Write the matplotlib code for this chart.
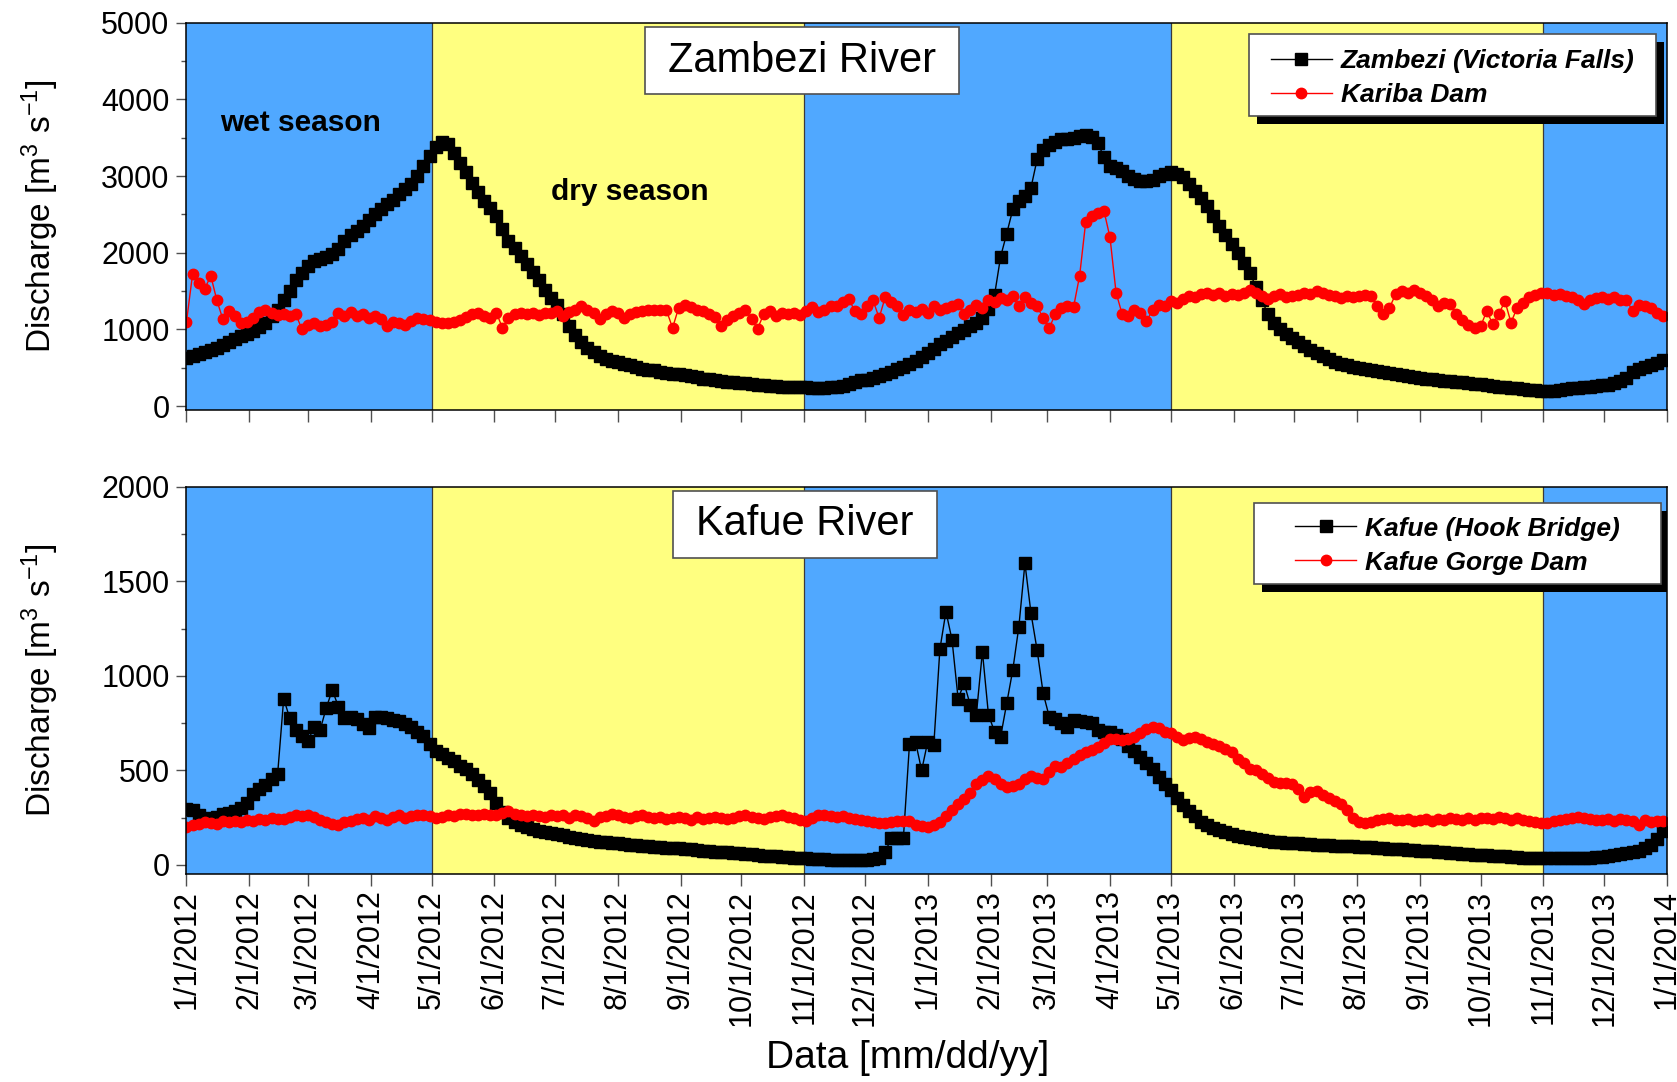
import numpy as np
import pandas as pd
import matplotlib
matplotlib.use("Agg")
import matplotlib.pyplot as plt
import matplotlib.dates as mdates
from matplotlib.patches import Rectangle
from matplotlib.ticker import MultipleLocator, FuncFormatter

plt.rcParams['font.family'] = ['Liberation Sans', 'DejaVu Sans']
plt.rcParams['mathtext.fontset'] = 'custom'
plt.rcParams['mathtext.rm'] = 'Liberation Sans'
plt.rcParams['mathtext.it'] = 'Liberation Sans:italic'
plt.rcParams['mathtext.bf'] = 'Liberation Sans:bold'
plt.rcParams['axes.unicode_minus'] = False

# ---------------------------------------------------------------------------
# Daily discharge records, sampled every third day from 1 Jan 2012 [m3/s]
# ---------------------------------------------------------------------------
start_date = "2012-01-01"
step_days = 3

zambezi_victoria_falls = [
    630, 650, 675, 700, 730, 760, 795, 835, 875, 910, 945,             # 2012-01
    985, 1035, 1090, 1170, 1260, 1390, 1500, 1640, 1740,               # 2012-02
    1826, 1890, 1920, 1950, 1980, 2043, 2150, 2230, 2285, 2350, 2430,  # 2012-03
    2500, 2570, 2630, 2690, 2760, 2826, 2900, 3000, 3130, 3260,        # 2012-04
    3380, 3450, 3420, 3300, 3170, 3050, 2910, 2790, 2680, 2580,        # 2012-05
    2480, 2310, 2160, 2060, 1960, 1860, 1750, 1640, 1520, 1410,        # 2012-06
    1320, 1200, 1040, 930, 830, 760, 700, 655, 620, 595,               # 2012-07
    570, 550, 530, 510, 490, 475, 465, 450, 435, 425, 415,             # 2012-08
    405, 390, 375, 360, 350, 340, 330, 320, 312, 305,                  # 2012-09
    298, 290, 282, 272, 264, 258, 255, 252, 250, 248,                  # 2012-10
    245, 242, 240, 240, 245, 255, 265, 290, 320, 335,                  # 2012-11
    345, 365, 390, 420, 450, 478, 510, 550, 587, 640,                  # 2012-12
    696, 750, 804, 850, 900, 950, 995, 1040, 1090, 1150, 1270,         # 2013-01
    1450, 1950, 2250, 2565, 2670, 2740, 2850, 3217, 3340,              # 2013-02
    3400, 3450, 3478, 3490, 3500, 3520, 3540, 3510, 3430, 3250,        # 2013-03
    3130, 3100, 3060, 3000, 2960, 2940, 2930, 2950, 3000, 3030,        # 2013-04
    3050, 3030, 2990, 2900, 2800, 2710, 2609, 2480, 2350, 2230, 2120,  # 2013-05
    2000, 1870, 1740, 1560, 1380, 1200, 1087, 1000, 940, 885,          # 2013-06
    840, 790, 730, 690, 650, 610, 580, 555, 530, 510,                  # 2013-07
    498, 485, 470, 455, 445, 435, 420, 405, 393, 380,                  # 2013-08
    370, 360, 350, 340, 333, 326, 318, 310, 300, 290,                  # 2013-09
    283, 275, 265, 255, 245, 239, 230, 220, 212, 205, 198,             # 2013-10
    196, 200, 210, 222, 232, 240, 248, 255, 262, 270,                  # 2013-11
    280, 300, 325, 370, 440, 480, 510, 530, 560, 600,                  # 2013-12
]

kariba_dam = [
    1100, 1720, 1600, 1530, 1700, 1380, 1130, 1240, 1180, 1080, 1100,  # 2012-01
    1150, 1230, 1260, 1220, 1190, 1200, 1180, 1200, 1000,              # 2012-02
    1060, 1080, 1050, 1060, 1100, 1210, 1180, 1230, 1170, 1200, 1150,  # 2012-03
    1170, 1140, 1050, 1100, 1080, 1060, 1110, 1150, 1130, 1120,        # 2012-04
    1100, 1090, 1080, 1100, 1120, 1160, 1200, 1210, 1180, 1150,        # 2012-05
    1220, 1020, 1150, 1200, 1220, 1200, 1210, 1190, 1220, 1210,        # 2012-06
    1240, 1180, 1230, 1260, 1300, 1250, 1210, 1140, 1200, 1240,        # 2012-07
    1220, 1150, 1200, 1230, 1240, 1260, 1250, 1260, 1250, 1020, 1280,  # 2012-08
    1320, 1290, 1260, 1240, 1200, 1160, 1050, 1120, 1180, 1220,        # 2012-09
    1260, 1130, 1010, 1200, 1240, 1180, 1210, 1200, 1220, 1190,        # 2012-10
    1240, 1290, 1230, 1260, 1300, 1310, 1360, 1400, 1240, 1200,        # 2012-11
    1300, 1380, 1150, 1420, 1360, 1300, 1190, 1260, 1230, 1270,        # 2012-12
    1220, 1300, 1260, 1280, 1300, 1330, 1200, 1250, 1320, 1280, 1390,  # 2013-01
    1360, 1410, 1380, 1430, 1300, 1420, 1350, 1300, 1150,              # 2013-02
    1020, 1200, 1280, 1300, 1290, 1700, 2400, 2480, 2520, 2550,        # 2013-03
    2200, 1480, 1200, 1180, 1260, 1220, 1110, 1250, 1320, 1300,        # 2013-04
    1370, 1350, 1400, 1435, 1420, 1460, 1480, 1450, 1470, 1440, 1460,  # 2013-05
    1450, 1470, 1520, 1480, 1430, 1400, 1440, 1460, 1420, 1435,        # 2013-06
    1450, 1480, 1460, 1500, 1480, 1450, 1430, 1410, 1440, 1420,        # 2013-07
    1430, 1450, 1440, 1300, 1200, 1280, 1460, 1500, 1480, 1510,        # 2013-08
    1470, 1440, 1380, 1300, 1350, 1330, 1200, 1120, 1060, 1020,        # 2013-09
    1040, 1240, 1070, 1200, 1370, 1090, 1280, 1350, 1420, 1450, 1470,  # 2013-10
    1480, 1450, 1460, 1440, 1420, 1380, 1330, 1390, 1410, 1420,        # 2013-11
    1400, 1420, 1380, 1390, 1240, 1320, 1300, 1280, 1220, 1180,        # 2013-12
]

kafue_hook_bridge = [
    295, 290, 262, 248, 240, 255, 268, 275, 285, 300, 325,             # 2012-01
    375, 400, 425, 452, 480, 880, 775, 714, 680,                       # 2012-02
    655, 731, 714, 830, 925, 837, 775, 784, 770, 745, 725,             # 2012-03
    784, 780, 775, 768, 760, 745, 730, 705, 680, 640,                  # 2012-04
    600, 585, 565, 548, 525, 505, 480, 450, 415, 380,                  # 2012-05
    330, 280, 250, 225, 210, 200, 190, 180, 172, 168,                  # 2012-06
    165, 158, 150, 142, 136, 130, 126, 122, 119, 116,                  # 2012-07
    114, 110, 106, 103, 100, 98, 96, 94, 92, 90, 88,                   # 2012-08
    86, 82, 78, 75, 72, 70, 68, 66, 64, 62,                            # 2012-09
    59, 56, 53, 50, 47, 45, 42, 40, 38, 36,                            # 2012-10
    35, 33, 31, 29, 27, 27, 26, 26, 26, 27,                            # 2012-11
    28, 32, 38, 70, 140, 141, 145, 640, 650, 500,                      # 2012-12
    652, 634, 1140, 1340, 1190, 880, 960, 846, 793, 1128, 793,         # 2013-01
    705, 678, 855, 1031, 1260, 1595, 1330, 1137, 908,                  # 2013-02
    784, 770, 749, 731, 767, 760, 758, 749, 714, 705,                  # 2013-03
    705, 685, 665, 630, 600, 570, 540, 505, 467, 430,                  # 2013-04
    396, 355, 318, 285, 258, 228, 210, 195, 183, 172, 162,             # 2013-05
    155, 148, 142, 135, 130, 126, 122, 120, 118, 116,                  # 2013-06
    114, 112, 110, 108, 106, 104, 102, 100, 99, 98,                    # 2013-07
    97, 95, 93, 91, 89, 87, 85, 83, 81, 79,                            # 2013-08
    76, 74, 72, 70, 68, 65, 62, 60, 58, 55,                            # 2013-09
    53, 51, 49, 47, 45, 43, 41, 39, 37, 36, 35,                        # 2013-10
    35, 35, 35, 35, 35, 35, 37, 39, 41, 44,                            # 2013-11
    48, 52, 58, 64, 70, 76, 88, 108, 135, 180,                         # 2013-12
]

kafue_gorge_dam = [
    200, 210, 215, 225, 220, 215, 230, 225, 235, 228, 238,             # 2012-01
    232, 245, 240, 250, 245, 242, 255, 262, 258,                       # 2012-02
    265, 255, 240, 225, 215, 212, 225, 232, 245, 250, 240,             # 2012-03
    258, 250, 240, 255, 262, 250, 258, 265, 262, 258,                  # 2012-04
    250, 255, 262, 260, 268, 270, 265, 262, 270, 265,                  # 2012-05
    262, 275, 285, 268, 262, 258, 265, 260, 255, 262,                  # 2012-06
    258, 262, 250, 265, 258, 248, 235, 255, 260, 268,                  # 2012-07
    262, 255, 250, 258, 262, 255, 248, 252, 245, 250, 255,             # 2012-08
    248, 240, 252, 245, 250, 255, 248, 242, 250, 258,                  # 2012-09
    262, 255, 250, 245, 252, 258, 262, 255, 250, 240,                  # 2012-10
    230, 250, 262, 265, 260, 255, 258, 250, 245, 238,                  # 2012-11
    230, 225, 222, 220, 225, 230, 232, 235, 210, 205,                  # 2012-12
    200, 210, 225, 260, 290, 320, 350, 380, 430, 450, 470,             # 2013-01
    455, 430, 410, 415, 430, 455, 470, 458, 455,                       # 2013-02
    490, 525, 520, 540, 560, 580, 595, 610, 626, 645,                  # 2013-03
    665, 668, 662, 665, 678, 700, 720, 731, 725, 705,                  # 2013-04
    696, 675, 661, 670, 678, 665, 652, 640, 630, 615, 595,             # 2013-05
    560, 540, 510, 500, 480, 458, 440, 432, 435, 430,                  # 2013-06
    400, 360, 385, 390, 370, 355, 340, 320, 290, 250,                  # 2013-07
    229, 220, 228, 240, 245, 250, 240, 238, 245, 232,                  # 2013-08
    238, 242, 235, 245, 238, 250, 242, 236, 248, 240,                  # 2013-09
    247, 250, 242, 255, 246, 240, 248, 238, 232, 228, 222,             # 2013-10
    220, 230, 238, 245, 250, 256, 250, 245, 240, 238,                  # 2013-11
    242, 235, 245, 238, 232, 210, 240, 225, 235, 230,                  # 2013-12
]

# Wet / dry season boundaries
season_edges = ["2012-01-01", "2012-05-01", "2012-11-01",
                "2013-05-01", "2013-11-01", "2014-01-01"]
season_kind = ["wet", "dry", "wet", "dry", "wet"]
season_colors = {"wet": "#50A8FF", "dry": "#FFFF80"}

x_start, x_end = "2012-01-01", "2014-01-01"

dates = pd.date_range(start_date, periods=len(zambezi_victoria_falls),
                      freq=f"{step_days}D")

# ---------------------------------------------------------------------------
fig = plt.figure(figsize=(16.77, 10.82), dpi=100)
ax_top = fig.add_axes([0.1112, 0.6211, 0.8828, 0.3579])
ax_bot = fig.add_axes([0.1112, 0.1922, 0.8828, 0.3580])

edges = pd.to_datetime(season_edges)


def shade_seasons(ax):
    for i, kind in enumerate(season_kind):
        ax.axvspan(edges[i], edges[i + 1], color=season_colors[kind],
                   lw=0, zorder=0)
    for e in edges[1:-1]:
        ax.axvline(e, color="#3a3a3a", lw=0.9, zorder=0.5)


def month_label(x, pos):
    d = mdates.num2date(x)
    return f"{d.month}/{d.day}/{d.year}"


def style_axes(ax, ymax, ymin, major, minor):
    ax.set_xlim(pd.Timestamp(x_start), pd.Timestamp(x_end))
    ax.set_ylim(ymin, ymax)
    ax.xaxis.set_major_locator(mdates.MonthLocator())
    ax.xaxis.set_major_formatter(FuncFormatter(month_label))
    ax.yaxis.set_major_locator(MultipleLocator(major))
    ax.yaxis.set_minor_locator(MultipleLocator(minor))
    ax.tick_params(axis="x", which="major", direction="out", length=8.5,
                   width=1, color="#505050", labelsize=22,
                   labelrotation=90, pad=3)
    ax.tick_params(axis="y", which="major", direction="out", length=7.2,
                   width=1, color="#505050", labelsize=22, pad=5)
    ax.tick_params(axis="y", which="minor", direction="out", length=3.6,
                   width=1, color="#505050")
    for s in ax.spines.values():
        s.set_linewidth(1.1)
        s.set_color("black")
        s.set_zorder(6)
    ax.set_ylabel(r"Discharge [m$^{3}$ s$^{-1}$]", fontsize=24)
    ax.yaxis.set_label_coords(-0.085, 0.5)


def title_box(ax, x0, y0, x1, y1, text):
    ax.add_patch(Rectangle((x0, y0), x1 - x0, y1 - y0,
                           transform=ax.transAxes, facecolor="white",
                           edgecolor="#505050", lw=1.2, zorder=7))
    ax.text((x0 + x1) / 2, (y0 + y1) / 2, text, transform=ax.transAxes,
            ha="center", va="center", fontsize=30, zorder=8)


legend_font = {"family": "Liberation Sans", "weight": "bold",
               "style": "italic", "size": 19}

# drop-shadow offset of the legend frames, in axes fractions
shadow_dx, shadow_dy = 0.0054, 0.0207


def framed_legend(ax, x0, y0, x1, y1, drop=0.008):
    """Legend centred in a white frame with a solid black drop shadow."""
    ax.add_patch(Rectangle((x0 + shadow_dx, y0 - shadow_dy), x1 - x0,
                           y1 - y0, transform=ax.transAxes,
                           facecolor="black", edgecolor="black", lw=0,
                           zorder=7))
    ax.add_patch(Rectangle((x0, y0), x1 - x0, y1 - y0,
                           transform=ax.transAxes, facecolor="white",
                           edgecolor="#505050", lw=1.2, zorder=7.5))
    leg = ax.legend(loc="center", bbox_to_anchor=((x0 + x1) / 2,
                                                  (y0 + y1) / 2 - drop),
                    frameon=False, borderpad=0, borderaxespad=0,
                    handlelength=2.3, handletextpad=0.35,
                    labelspacing=0.38, prop=legend_font)
    leg.set_zorder(9)
    return leg


black_style = dict(color="black", lw=1, marker="s", ms=8,
                   mfc="black", mec="black", zorder=3)
red_style = dict(color="red", lw=1, marker="o", ms=7.5,
                 mfc="red", mec="red", zorder=4)

# --- Zambezi ---------------------------------------------------------------
shade_seasons(ax_top)
ax_top.plot(dates, zambezi_victoria_falls, label="Zambezi (Victoria Falls)",
            **black_style)
ax_top.plot(dates, kariba_dam, label="Kariba Dam", **red_style)
style_axes(ax_top, 5000, -50, 1000, 500)
ax_top.tick_params(axis="x", labelbottom=False)
framed_legend(ax_top, 0.718, 0.759, 0.9926, 0.971)
title_box(ax_top, 0.3097, 0.8159, 0.5218, 0.9889, "Zambezi River")
ax_top.text(0.0226, 0.7204, "wet season", transform=ax_top.transAxes,
            fontsize=21.5, fontweight="bold", ha="left", va="baseline",
            zorder=8)
ax_top.text(0.2462, 0.5422, "dry season", transform=ax_top.transAxes,
            fontsize=21.5, fontweight="bold", ha="left", va="baseline",
            zorder=8)

# --- Kafue -----------------------------------------------------------------
shade_seasons(ax_bot)
ax_bot.plot(dates, kafue_hook_bridge, label="Kafue (Hook Bridge)",
            **black_style)
ax_bot.plot(dates, kafue_gorge_dam, label="Kafue Gorge Dam", **red_style)
style_axes(ax_bot, 2000, -48, 500, 250)
framed_legend(ax_bot, 0.7214, 0.7488, 0.996, 0.9587, drop=0.006)
title_box(ax_bot, 0.3286, 0.8159, 0.5069, 0.9889, "Kafue River")
ax_bot.set_xlabel("Data [mm/dd/yy]", fontsize=28)
ax_bot.xaxis.set_label_coords(0.487, -0.4286)

fig.savefig("out.png", dpi=100)
